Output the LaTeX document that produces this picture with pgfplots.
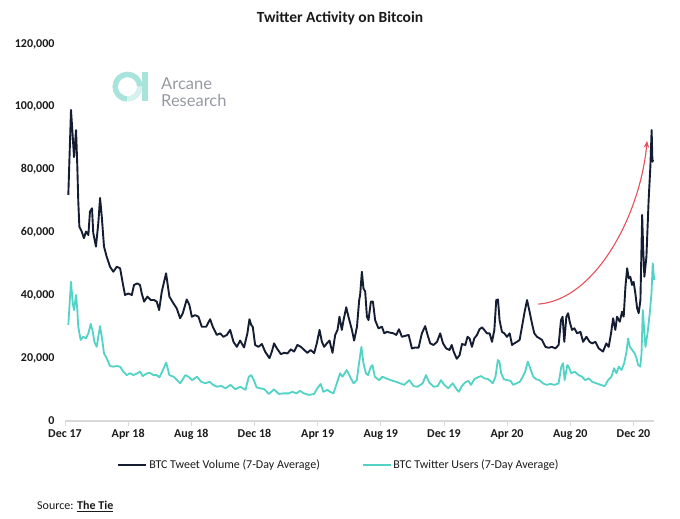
\documentclass[border=0pt]{standalone}
\usepackage{pgfplots}
\pgfplotsset{compat=1.18}
\usepackage{fontspec}
\setmainfont{Carlito}
\newfontfamily\logofont{Lato}
\usetikzlibrary{arrows.meta}
\definecolor{btcdark}{HTML}{151D33}
\definecolor{btcteal}{HTML}{52D3C6}
\definecolor{arrowred}{HTML}{E5505A}
\definecolor{logoteal}{HTML}{A8E4DC}
\definecolor{logopale}{HTML}{D6F2EE}
\definecolor{logogray}{HTML}{959AA2}
\definecolor{axgray}{HTML}{D9D9D9}
\definecolor{txt}{HTML}{1A1A1A}

\begin{document}
\begin{tikzpicture}[x=1pt,y=1pt]
\path[use as bounding box] (0,0) rectangle (680,519);
% title
\node[font=\fontsize{15.5}{18}\selectfont\bfseries, text=txt] at (340,501) {Twitter Activity on Bitcoin};
% logo
\draw[logoteal, line width=5.5pt] (127.5,432.3) ++(0:12.3) arc[start angle=0, end angle=270, radius=12.3];
\draw[logopale, line width=5.5pt] (127.5,432.3) ++(270:12.3) arc[start angle=270, end angle=360, radius=12.3];
\fill[logoteal] (141.7,418) rectangle (148.3,447);
\node[anchor=base west, inner sep=0, font=\logofont\fontsize{16.5}{18}\selectfont, text=logogray] at (161,429.5) {Arcane};
\node[anchor=base west, inner sep=0, font=\logofont\fontsize{16.5}{18}\selectfont, text=logogray] at (161,412.5) {Research};
% source
\node[anchor=base west, inner sep=0, font=\fontsize{12}{14}\selectfont, text=txt] at (37,9) {Source: \textbf{\underline{The Tie}}};

\begin{axis}[
  at={(65pt,98pt)}, anchor=south west,
  scale only axis, width=589pt, height=377pt,
  xmin=0, xmax=37.3, ymin=0, ymax=120000,
  axis lines=left, axis line style={-},
  y axis line style={draw=none},
  x axis line style={draw=axgray, line width=1.2pt},
  xtick={0,4,...,36},
  xticklabels={Dec 17, Apr 18, Aug 18, Dec 18, Apr 19, Aug 19, Dec 19, Apr 20, Aug 20, Dec 20},
  ytick={0,20000,...,120000},
  tick align=outside,
  major tick length=5pt,
  xtick style={draw=axgray, line width=0.8pt},
  ytick style={draw=none},
  ticklabel style={font=\fontsize{12}{14}\selectfont\bfseries, text=txt},
  scaled y ticks=false,
  /pgf/number format/fixed,
  /pgf/number format/1000 sep={,},
  /pgf/number format/assume math mode=true,
  yticklabel style={xshift=-2pt},
  clip=false,
  legend columns=2,
  legend style={at={(0.4645,-0.117)}, anchor=center, draw=none, fill=none,
    font=\fontsize{12}{14}\selectfont, text=txt,
    /tikz/every even column/.append style={column sep=40pt},
    nodes={inner sep=1.5pt}},
  legend image code/.code={\draw[#1, line width=2.6pt] (0pt,0pt) -- (28pt,0pt);},
]
\addplot[btcdark, line width=1.9pt, line join=round] coordinates {
(0.21,72000) (0.38,99000) (0.49,90500) (0.57,84000) (0.70,92600) (0.78,81000) (0.84,70000) (0.91,61800)
(1.06,60300) (1.20,58200) (1.33,60300) (1.48,59200) (1.58,66600) (1.71,67700) (1.79,59800) (1.96,55500)
(2.11,63000) (2.22,71000) (2.33,65000) (2.47,55500) (2.64,52300) (2.85,49100) (3.06,47500) (3.28,49100)
(3.49,48600) (3.66,43800) (3.80,40100) (4.01,40600) (4.23,40100) (4.37,43300) (4.58,43800) (4.75,43300)
(4.86,40600) (5.01,38000) (5.22,39600) (5.43,38500) (5.64,38500) (5.81,38000) (5.96,35300) (6.13,41200)
(6.40,47000) (6.61,39600) (6.86,37500) (7.07,35900) (7.29,32700) (7.46,34300) (7.71,38700) (7.88,36900)
(8.03,33200) (8.24,33700) (8.45,33200) (8.66,30000) (8.94,30000) (9.19,32400) (9.36,30000) (9.61,27400)
(9.82,27900) (10.03,26800) (10.25,27400) (10.46,29000) (10.67,25200) (10.88,23600) (11.09,25600) (11.34,23400)
(11.55,27900) (11.68,32400) (11.79,30600) (11.89,30000) (12.04,24200) (12.25,23600) (12.47,24500) (12.67,22100)
(12.95,20000) (13.10,22100) (13.24,24700) (13.42,23100) (13.67,21300) (13.88,21700) (14.09,21500) (14.30,22800)
(14.51,22100) (14.72,24200) (14.94,23600) (15.15,22600) (15.35,21700) (15.56,22600) (15.78,21600) (15.95,24800)
(16.12,29000) (16.27,25200) (16.41,23600) (16.58,24700) (16.75,25600) (16.94,21700) (17.11,27400) (17.26,29000)
(17.38,33200) (17.53,29000) (17.64,32100) (17.81,36200) (17.95,33200) (18.17,29000) (18.31,25600) (18.49,30000)
(18.63,38500) (18.69,40100) (18.80,47500) (18.90,42200) (19.01,41200) (19.12,33200) (19.22,32100) (19.37,38000)
(19.50,38000) (19.64,32100) (19.85,29500) (20.07,30000) (20.22,27900) (20.39,28400) (20.60,28100) (20.80,27900)
(20.98,27400) (21.15,29200) (21.34,26800) (21.55,27100) (21.76,27400) (21.97,23100) (22.18,23400) (22.39,23300)
(22.60,27900) (22.81,30200) (22.96,27400) (23.13,24700) (23.34,24200) (23.56,25200) (23.76,27900) (23.94,24700)
(24.14,23100) (24.35,22600) (24.49,24200) (24.61,22100) (24.81,19800) (24.99,21000) (25.14,24500) (25.35,24200)
(25.49,26800) (25.62,26300) (25.77,23600) (25.92,26300) (26.09,27400) (26.25,29200) (26.41,29800) (26.55,29000)
(26.72,27900) (26.89,27900) (27.04,25200) (27.19,29000) (27.31,38500) (27.42,38700) (27.52,32100) (27.67,28400)
(27.82,27900) (27.99,26800) (28.16,27900) (28.31,24200) (28.45,24700) (28.62,25200) (28.79,25800) (28.94,30000)
(29.09,34300) (29.26,38500) (29.42,34800) (29.57,31100) (29.72,27900) (29.89,26800) (30.06,26300) (30.21,25800)
(30.42,23600) (30.63,23300) (30.84,23600) (31.05,23100) (31.26,24200) (31.41,32100) (31.51,33200) (31.62,25200)
(31.75,33200) (31.86,34300) (31.96,31600) (32.11,29000) (32.26,29500) (32.43,27900) (32.64,28400) (32.81,25200)
(33.02,26800) (33.22,25200) (33.38,24700) (33.59,25200) (33.80,23100) (34.07,22100) (34.28,24700) (34.43,23600)
(34.58,27900) (34.71,32700) (34.85,29000) (34.96,33200) (35.13,31600) (35.28,34800) (35.38,33200) (35.49,42700)
(35.60,48600) (35.70,45400) (35.80,45900) (35.91,43300) (36.01,44300) (36.12,40600) (36.23,35900) (36.33,34300)
(36.44,38500) (36.55,65600) (36.61,55500) (36.69,45900) (36.82,52300) (36.96,70300) (37.07,81000) (37.15,92600)
(37.20,82500) (37.24,83100)
};
\addlegendentry{BTC Tweet Volume (7-Day Average)}
\addplot[btcteal, line width=1.8pt, line join=round] coordinates {
(0.21,30600) (0.38,44300) (0.49,37500) (0.57,35300) (0.70,40100) (0.78,35300) (0.84,30000) (0.99,25800)
(1.16,26800) (1.33,26300) (1.48,27900) (1.63,30900) (1.76,28400) (1.86,25200) (2.01,23600) (2.11,26800)
(2.22,30200) (2.36,25800) (2.47,21500) (2.64,20000) (2.85,17500) (3.06,17300) (3.28,17500) (3.49,17300)
(3.69,15700) (3.91,14600) (4.12,15200) (4.33,14600) (4.58,15200) (4.75,15700) (4.93,14300) (5.13,15000)
(5.35,15400) (5.60,14600) (5.81,14600) (5.98,13900) (6.20,16200) (6.41,18600) (6.61,14600) (6.87,14100)
(7.09,13000) (7.30,12000) (7.62,14600) (7.83,14100) (8.04,13000) (8.36,14100) (8.62,12500) (8.89,12000)
(9.16,12500) (9.38,11500) (9.63,10900) (9.89,11200) (10.16,10400) (10.48,11500) (10.79,10100) (11.11,10900)
(11.43,9900) (11.64,14100) (11.79,14600) (11.96,13000) (12.13,10700) (12.38,10400) (12.63,10100) (12.91,8600)
(13.23,10100) (13.54,8600) (13.86,8800) (14.18,8800) (14.39,9300) (14.67,8800) (14.88,9600) (15.13,8800)
(15.45,8300) (15.77,8600) (15.98,10400) (16.15,11500) (16.19,11800) (16.36,9300) (16.62,9900) (16.78,9300)
(17.00,8800) (17.21,12000) (17.42,15200) (17.57,14100) (17.84,16200) (18.05,14100) (18.27,12000) (18.48,13000)
(18.62,18400) (18.77,23600) (18.90,18400) (19.05,15200) (19.19,14600) (19.37,17300) (19.47,17800) (19.62,14100)
(19.89,13000) (20.11,14100) (20.32,13600) (20.63,13000) (20.95,12500) (21.22,12000) (21.48,11500) (21.80,13000)
(22.08,11100) (22.33,10900) (22.65,12000) (22.86,14600) (23.07,12200) (23.35,10900) (23.60,11100) (23.81,13000)
(24.02,11500) (24.27,10400) (24.55,12000) (24.83,9900) (24.95,9300) (25.12,11100) (25.33,12200) (25.54,12800)
(25.71,11500) (25.92,13300) (26.14,13900) (26.35,14300) (26.56,13600) (26.81,13300) (27.09,12000) (27.26,14100)
(27.41,19400) (27.51,18900) (27.62,15200) (27.79,13300) (28.00,13000) (28.21,12800) (28.38,11500) (28.59,12000)
(28.81,12500) (28.99,14100) (29.14,15700) (29.31,18900) (29.48,16500) (29.65,14100) (29.84,13300) (30.05,13000)
(30.27,12000) (30.48,11500) (30.75,11800) (31.00,11500) (31.26,12000) (31.43,17300) (31.54,18400) (31.64,13000)
(31.81,17800) (31.89,17300) (32.06,15200) (32.27,15700) (32.53,14600) (32.74,14100) (32.95,13000) (33.16,13600)
(33.38,12500) (33.65,12000) (33.92,11500) (34.18,11100) (34.39,13000) (34.60,14100) (34.77,16800) (34.92,15200)
(35.07,17300) (35.24,16200) (35.41,18400) (35.56,22100) (35.66,26300) (35.77,23600) (35.92,22600) (36.08,21500)
(36.19,20000) (36.30,17800) (36.43,17300) (36.51,21500) (36.59,35300) (36.68,29000) (36.76,23600) (36.89,27900)
(37.03,34300) (37.14,40600) (37.22,50200) (37.31,44900)
};
\addlegendentry{BTC Twitter Users (7-Day Average)}
% annotation arrow
\draw[arrowred, line width=1.1pt, -{Stealth[length=7pt,width=5.5pt]}]
  (axis cs:29.97,37200) .. controls (axis cs:33.59,38500) and (axis cs:36.44,65600) .. (axis cs:36.86,89200);
\end{axis}
\end{tikzpicture}
\end{document}
